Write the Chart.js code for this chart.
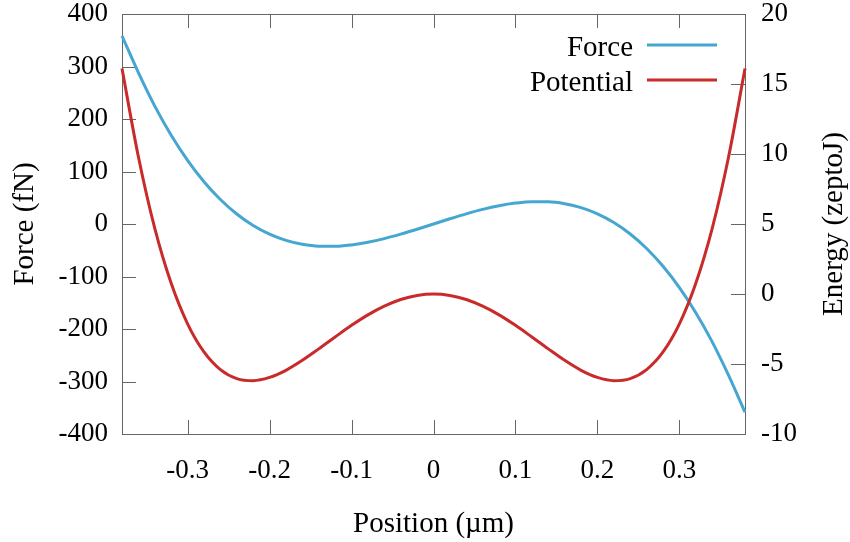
<!DOCTYPE html>
<html>
<head>
<meta charset="utf-8">
<script src="https://cdn.jsdelivr.net/npm/chart.js@4.4.0/dist/chart.umd.min.js"></script>
<style>
  html, body { margin: 0; padding: 0; background: #fff; }
  #wrap { width: 850px; height: 542px; }
</style>
</head>
<body>
<div id="wrap"><canvas id="chart"></canvas></div>
<script>
// position (µm)
const positions = [
  -0.38, -0.36, -0.34, -0.32, -0.30, -0.28, -0.26, -0.24, -0.22, -0.20,
  -0.18, -0.16, -0.14, -0.12, -0.10, -0.08, -0.06, -0.04, -0.02, 0,
  0.02, 0.04, 0.06, 0.08, 0.10, 0.12, 0.14, 0.16, 0.18, 0.20,
  0.22, 0.24, 0.26, 0.28, 0.30, 0.32, 0.34, 0.36, 0.38
];
// force (fN)
const force = [
  358.5, 288.4, 224.6, 169.1, 121.2, 80.5, 46.6, 19.0, -2.9, -19.5,
  -31.3, -38.7, -42.3, -42.5, -39.8, -34.8, -27.8, -19.3, -9.9, 0,
  9.9, 19.3, 27.8, 34.8, 39.8, 42.5, 42.3, 38.7, 31.3, 19.5,
  2.9, -19.0, -46.6, -80.5, -121.2, -169.1, -224.6, -288.4, -358.5
];
// potential energy (zeptoJ)
const potential = [
  16.1, 9.8, 4.68, 0.76, -2.13, -4.14, -5.40, -6.04, -6.19, -5.96,
  -5.45, -4.74, -3.92, -3.07, -2.24, -1.49, -0.87, -0.39, -0.10, 0,
  -0.10, -0.39, -0.87, -1.49, -2.24, -3.07, -3.92, -4.74, -5.45, -5.96,
  -6.19, -6.04, -5.40, -4.14, -2.13, 0.76, 4.68, 9.8, 16.1
];

const positionTicks = [-0.3, -0.2, -0.1, 0, 0.1, 0.2, 0.3];
const forceTicks = [-400, -300, -200, -100, 0, 100, 200, 300, 400];
const energyTicks = [-10, -5, 0, 5, 10, 15, 20];

const FONT = 'Liberation Serif';
const tickFont = { family: FONT, size: 27, lineHeight: 1.1 };
const titleFont = { family: FONT, size: 29, lineHeight: 1.1 };
const energyTitle = 'Energy (zeptoJ)';

// inner tick marks + frame, like gnuplot
const frame = {
  id: 'frame',
  beforeDatasetsDraw(chart) {
    const { ctx, chartArea: a, scales } = chart;
    const tl = 14;
    ctx.save();
    ctx.strokeStyle = '#666';
    ctx.lineWidth = 1;
    ctx.beginPath();
    scales.x.ticks.forEach(t => {
      const px = Math.round(scales.x.getPixelForValue(t.value)) + 0.5;
      ctx.moveTo(px, a.bottom); ctx.lineTo(px, a.bottom - tl);
      ctx.moveTo(px, a.top); ctx.lineTo(px, a.top + tl);
    });
    scales.y.ticks.forEach(t => {
      const py = Math.round(scales.y.getPixelForValue(t.value)) + 0.5;
      ctx.moveTo(a.left, py); ctx.lineTo(a.left + tl, py);
    });
    scales.y2.ticks.forEach(t => {
      const py = Math.round(scales.y2.getPixelForValue(t.value)) + 0.5;
      ctx.moveTo(a.right, py); ctx.lineTo(a.right - tl, py);
    });
    ctx.stroke();
    ctx.strokeRect(Math.round(a.left) + 0.5, Math.round(a.top) + 0.5,
      Math.round(a.right - a.left), Math.round(a.bottom - a.top));
    ctx.restore();
  }
};

// legend at top right (text then line) and right axis title read bottom-to-top
const extras = {
  id: 'extras',
  afterDraw(chart) {
    const { ctx, chartArea: a } = chart;
    ctx.save();
    ctx.font = `${titleFont.size}px "${FONT}"`;
    ctx.fillStyle = '#000';
    ctx.textAlign = 'right';
    ctx.textBaseline = 'alphabetic';
    [0, 1].forEach(i => {
      const ds = chart.data.datasets[i];
      const y = a.top + 31 + i * 35;
      ctx.fillText(ds.label, a.right - 112, y + 11);
      ctx.strokeStyle = ds.borderColor;
      ctx.lineWidth = 3;
      ctx.beginPath();
      ctx.moveTo(a.right - 98, y);
      ctx.lineTo(a.right - 28, y);
      ctx.stroke();
    });
    ctx.translate(834, (a.top + a.bottom) / 2);
    ctx.rotate(-Math.PI / 2);
    ctx.textAlign = 'center';
    ctx.textBaseline = 'middle';
    ctx.fillText(energyTitle, 0, 0);
    ctx.restore();
  }
};

const noPad = s => { s.paddingTop = 0; s.paddingBottom = 0; s.paddingLeft = 0; s.paddingRight = 0; };

new Chart(document.getElementById('chart'), {
  type: 'line',
  data: {
    datasets: [
      {
        label: 'Force',
        data: positions.map((p, i) => ({ x: p, y: force[i] })),
        yAxisID: 'y',
        borderColor: '#44a6d1',
        borderWidth: 3,
        pointRadius: 0,
        cubicInterpolationMode: 'monotone',
        clip: false,
        order: 1
      },
      {
        label: 'Potential',
        data: positions.map((p, i) => ({ x: p, y: potential[i] })),
        yAxisID: 'y2',
        borderColor: '#c92a2a',
        borderWidth: 3,
        pointRadius: 0,
        cubicInterpolationMode: 'monotone',
        clip: false,
        order: 0
      }
    ]
  },
  options: {
    responsive: true,
    maintainAspectRatio: false,
    animation: false,
    layout: { padding: { top: 14, left: 0, right: 0, bottom: 0 } },
    plugins: { legend: { display: false }, tooltip: { enabled: false } },
    scales: {
      x: {
        type: 'linear',
        min: -0.38,
        max: 0.38,
        grid: { display: false, drawTicks: false },
        border: { display: false },
        afterBuildTicks: s => { s.ticks = positionTicks.map(v => ({ value: v })); },
        afterFit: s => { s.height = 108; noPad(s); },
        ticks: {
          font: tickFont, color: '#000', padding: 22, maxRotation: 0, autoSkip: false,
          callback: v => String(Math.round(v * 10) / 10)
        },
        title: { display: true, text: 'Position (µm)', font: titleFont, color: '#000', padding: { top: 0, bottom: 2 } }
      },
      y: {
        position: 'left',
        min: -400,
        max: 400,
        grid: { display: false, drawTicks: false },
        border: { display: false },
        afterBuildTicks: s => { s.ticks = forceTicks.map(v => ({ value: v })); },
        afterFit: s => { s.width = 122; noPad(s); },
        ticks: { font: tickFont, color: '#000', padding: 14, callback: v => String(v) },
        title: { display: true, text: 'Force (fN)', font: titleFont, color: '#000', padding: { top: 9, bottom: 0 } }
      },
      y2: {
        position: 'right',
        min: -10,
        max: 20,
        grid: { display: false, drawTicks: false },
        border: { display: false },
        afterBuildTicks: s => { s.ticks = energyTicks.map(v => ({ value: v })); },
        afterFit: s => { s.width = 105; noPad(s); },
        ticks: { font: tickFont, color: '#000', padding: 16, callback: v => String(v) },
        title: { display: false }
      }
    }
  },
  plugins: [frame, extras]
});
</script>
</body>
</html>
